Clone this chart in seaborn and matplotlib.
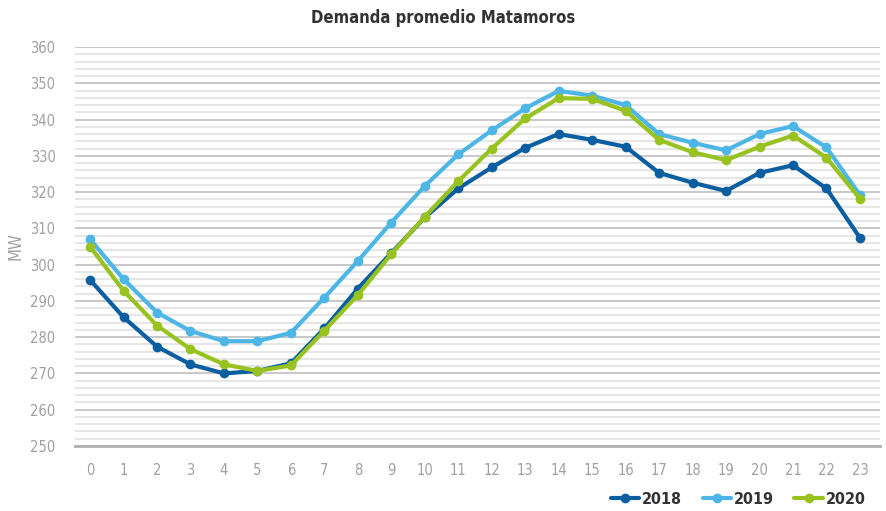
import numpy as np
import pandas as pd
import matplotlib
matplotlib.use('Agg')
import matplotlib.pyplot as plt
import seaborn as sns
from matplotlib.ticker import MultipleLocator

# Hourly average demand (MW)
hours = list(range(24))
demand_2018 = [295.8, 285.5, 277.4, 272.5, 270.0, 270.7, 272.8, 282.4, 293.4, 303.2, 313.0, 321.0,
               326.8, 332.2, 336.0, 334.4, 332.5, 325.3, 322.6, 320.3, 325.3, 327.4, 321.0, 307.4]
demand_2019 = [307.0, 296.0, 286.8, 281.7, 278.9, 278.9, 281.2, 290.9, 301.0, 311.6, 321.7, 330.4,
               337.0, 343.1, 347.9, 346.6, 344.0, 336.0, 333.6, 331.5, 336.0, 338.2, 332.3, 319.2]
demand_2020 = [305.0, 292.8, 283.2, 276.7, 272.5, 270.7, 272.2, 281.8, 291.6, 302.9, 313.2, 323.0,
               332.0, 340.3, 345.9, 345.7, 342.4, 334.4, 331.0, 328.8, 332.5, 335.6, 329.5, 318.2]
years = ['2018', '2019', '2020']
colors = ['#0b5ea0', '#4db6e6', '#98c21f']

df = pd.DataFrame({'hora': hours * 3,
                   'MW': demand_2018 + demand_2019 + demand_2020,
                   'year': [y for y in years for _ in hours]})

sns.set_style('white')
plt.rcParams['font.family'] = ['DejaVu Sans']
plt.rcParams['font.stretch'] = 'condensed'

fig = plt.figure(figsize=(8.86, 5.11), dpi=100)
ax = fig.add_axes([75 / 886, 1 - 446 / 511, 805 / 886, 399 / 511])

sns.lineplot(data=df, x='hora', y='MW', hue='year', palette=colors, linewidth=3.0,
             marker='o', markersize=7, markeredgewidth=0, ax=ax, legend=False, zorder=3)

ax.set_xlim(-0.45, 23.6)
ax.set_ylim(250, 360)
ax.yaxis.set_major_locator(MultipleLocator(10))
ax.yaxis.set_minor_locator(MultipleLocator(2))
ax.set_xticks(hours)
ax.grid(axis='y', which='major', color='#c8c8c8', linewidth=1.4, zorder=0)
ax.grid(axis='y', which='minor', color='#e2e2e2', linewidth=1.2, zorder=0)
ax.grid(axis='x', visible=False)
for s in ['top', 'right', 'left']:
    ax.spines[s].set_visible(False)
ax.spines['bottom'].set_color('#b0b0b0')
ax.spines['bottom'].set_linewidth(2)
ax.tick_params(axis='both', which='both', length=0, labelcolor='#a0a0a0', labelsize=10.5)
ax.tick_params(axis='x', pad=12)
ax.tick_params(axis='y', pad=14)

ax.set_xlabel('')
ax.set_ylabel('MW', color='#a0a0a0', fontsize=12, labelpad=4)
fig.text(0.5, 1 - 18 / 511, 'Demanda promedio Matamoros', ha='center', va='center',
         fontsize=12, fontweight='bold', color='#333333')

handles = [plt.Line2D([], [], color=c, linewidth=3.0, marker='o', markersize=7, markeredgewidth=0)
           for c in colors]
leg = fig.legend(handles, years, loc='center right', bbox_to_anchor=(880 / 886, 1 - 499 / 511),
                 ncol=3, frameon=False, handlelength=1.8, handletextpad=0.15, columnspacing=1.3,
                 prop={'size': 11.5, 'weight': 'bold'})
for t in leg.get_texts():
    t.set_color('#333333')

plt.savefig('out.png', dpi=100)
plt.close()
